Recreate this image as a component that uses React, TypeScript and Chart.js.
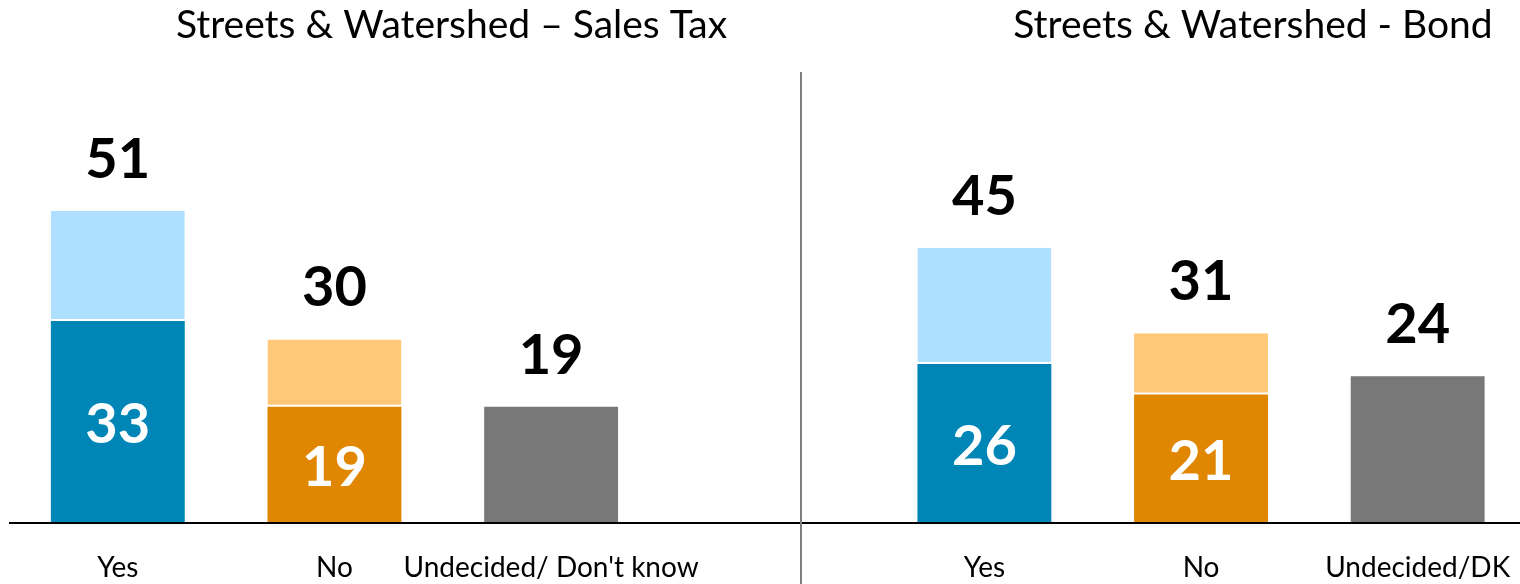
import React, { useEffect, useRef } from "react";
import { Chart, registerables } from "chart.js";

Chart.register(...registerables);

const categories = ["Yes", "No", "Undecided/ Don't know", "", "Yes", "No", "Undecided/DK"];
const firmValues = [33, 19, 19, null, 26, 21, 24];
const leanValues = [18, 11, null, null, 19, 10, null];
const totalLabels = ["51", "30", "19", "", "45", "31", "24"];
const innerLabels = ["33", "19", "", "", "26", "21", ""];
const panelTitles = ["Streets & Watershed \u2013 Sales Tax", "Streets & Watershed - Bond"];

const FIRM_COLORS = ["#0086B6", "#E08600", "#787878", "#ffffff", "#0086B6", "#E08600", "#787878"];
const LEAN_COLORS = ["#AEDFFF", "#FFC878", "#ffffff", "#ffffff", "#AEDFFF", "#FFC878", "#ffffff"];
const FONT = "Lato, 'Open Sans', sans-serif";

const overlayPlugin = {
  id: "overlay",
  afterDatasetsDraw(chart: any) {
    const { ctx } = chart;
    const x = chart.scales.x;
    const y = chart.scales.y;
    const y0 = y.getPixelForValue(0);
    ctx.save();
    // baseline
    ctx.strokeStyle = "#000000";
    ctx.lineWidth = 2;
    ctx.beginPath();
    ctx.moveTo(9, y0);
    ctx.lineTo(chart.width, y0);
    ctx.stroke();
    // divider
    ctx.strokeStyle = "#7F7F7F";
    ctx.lineWidth = 2;
    ctx.beginPath();
    ctx.moveTo(801, 72);
    ctx.lineTo(801, 584);
    ctx.stroke();
    // titles
    ctx.fillStyle = "#000000";
    ctx.textAlign = "center";
    ctx.textBaseline = "middle";
    ctx.font = `39px ${FONT}`;
    ctx.fillText(panelTitles[0], 451.5, 25);
    ctx.fillText(panelTitles[1], 1253, 25);
    // category labels
    ctx.font = `28px ${FONT}`;
    categories.forEach((c, i) => {
      if (!c) return;
      ctx.fillText(c, x.getPixelForValue(i), 568);
    });
    // value labels
    ctx.font = `bold 56px ${FONT}`;
    categories.forEach((c, i) => {
      if (!totalLabels[i]) return;
      const total = (firmValues[i] || 0) + (leanValues[i] || 0);
      const cx = x.getPixelForValue(i);
      ctx.fillStyle = "#000000";
      ctx.fillText(totalLabels[i], cx, y.getPixelForValue(total) - 51);
      if (innerLabels[i]) {
        ctx.fillStyle = "#ffffff";
        const mid = (y.getPixelForValue(firmValues[i] || 0) + y0) / 2 + 3;
        ctx.fillText(innerLabels[i], cx, mid);
      }
    });
    ctx.restore();
  },
};

export default function App() {
  const ref = useRef<HTMLCanvasElement>(null);
  useEffect(() => {
    if (!ref.current) return;
    const chart = new Chart(ref.current, {
      type: "bar",
      data: {
        labels: categories,
        datasets: [
          {
            label: "Firm",
            data: firmValues as any,
            backgroundColor: FIRM_COLORS,
            borderWidth: 0,
            categoryPercentage: 1,
            barPercentage: 0.618,
          },
          {
            label: "Lean",
            data: leanValues as any,
            backgroundColor: LEAN_COLORS,
            borderColor: "#ffffff",
            borderWidth: { top: 0, left: 0, right: 0, bottom: 2 },
            borderSkipped: false,
            categoryPercentage: 1,
            barPercentage: 0.618,
          },
        ],
      },
      options: {
        responsive: false,
        animation: false,
        devicePixelRatio: 1,
        layout: { padding: { left: 9.5, right: 4, top: 72, bottom: 61 } },
        plugins: { legend: { display: false }, tooltip: { enabled: false }, title: { display: false } },
        scales: {
          x: { display: false, stacked: true },
          y: { display: false, stacked: true, min: 0, max: 73.7 },
        },
      },
      plugins: [overlayPlugin],
    });
    return () => chart.destroy();
  }, []);
  return (
    <div style={{ position: "fixed", left: 0, top: 0, width: 1520, height: 584, overflow: "hidden", background: "#fff" }}>
      <canvas ref={ref} width={1530} height={584} style={{ display: "block" }} />
    </div>
  );
}
